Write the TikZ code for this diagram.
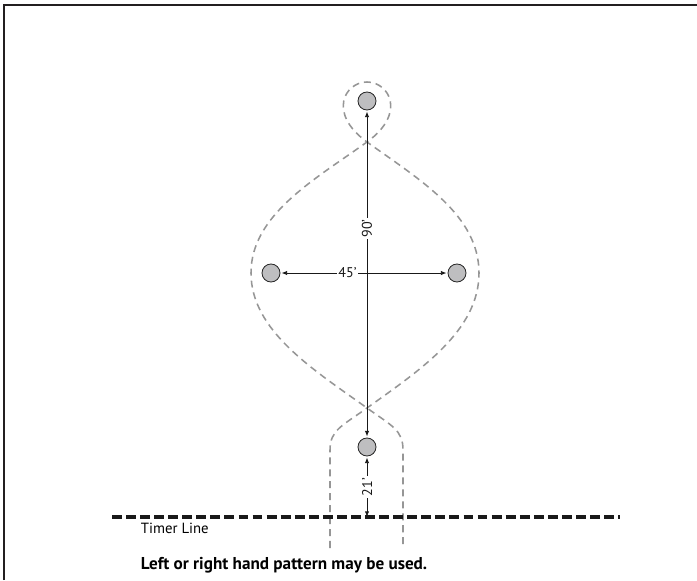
\documentclass[tikz,border=0pt]{standalone}
\usepackage{fontspec}
\setmainfont{PT Sans}
\usepackage{tikz}
\usetikzlibrary{
    arrows.meta,
    positioning
}
\definecolor{ballgray}{RGB}{190,190,192}
\definecolor{pathgray}{RGB}{150,150,150}
\definecolor{framegray}{RGB}{35,31,32}

\begin{document}
\begin{tikzpicture}[
            x=0.025cm, y=-0.025cm,
            font=\fontsize{10}{12}\selectfont,
            >={Latex[length=4pt, width=3pt]},
            ball/.style={circle, draw=black!85, line width=0.6pt, fill=ballgray,
                         minimum size=12.8pt, inner sep=0pt, outer sep=1pt},
            dim/.style={<->, line width=0.55pt, black!90},
            dimlabel/.style={fill=white, inner sep=1.2pt},
            pattern/.style={draw=pathgray, line width=1.1pt, dash pattern=on 5pt off 3.5pt},
            timer/.style={draw=black!90, line width=2.2pt, dash pattern=on 7pt off 3pt},
            frame/.style={draw=framegray, line width=1.8pt}
        ]
            \useasboundingbox (0,0) rectangle (697,580);
            \draw[frame] (4,580) -- (4,5) -- (697,5);

            % pattern run
            \draw[pattern] (330,548) -- (330,450)
                .. controls (330,430) and (342,426) .. (367,408)
                .. controls (420,370) and (479,331) .. (479,273)
                .. controls (479,215) and (420,180) .. (367,142)
                .. controls (327,113) and (345,82) .. (367,82)
                .. controls (389,82) and (407,113) .. (367,142)
                .. controls (314,180) and (251,215) .. (251,273)
                .. controls (251,331) and (314,370) .. (367,408)
                .. controls (392,426) and (403,430) .. (403,450) -- (403,548);

            \node[ball] (topball) at (367,101) {};
            \node[ball] (leftball) at (271,273) {};
            \node[ball] (rightball) at (457,273) {};
            \node[ball] (startball) at (367,447) {};

            \coordinate (timerL) at (112,517);
            \coordinate (timerR) at (620,517);
            \coordinate (timerC) at (367,517);
            \draw[timer] (timerL) -- (timerR);
            \node[anchor=west, font=\fontsize{10.5}{12}\selectfont] (timerlbl) at (136,528) {Timer Line};

            \draw[dim] (topball) -- node[dimlabel, pos=0.36, rotate=90]{90’} (startball);
            \draw[dim] (leftball) -- node[dimlabel, pos=0.4]{45’} (rightball);
            \draw[dim] (timerC) -- node[dimlabel, rotate=90]{21’} (startball);

            \node[anchor=west, font=\bfseries\fontsize{12.2}{14}\selectfont] (note) at (136,565)
                {Left or right hand pattern may be used.};
        \end{tikzpicture}
\end{document}
